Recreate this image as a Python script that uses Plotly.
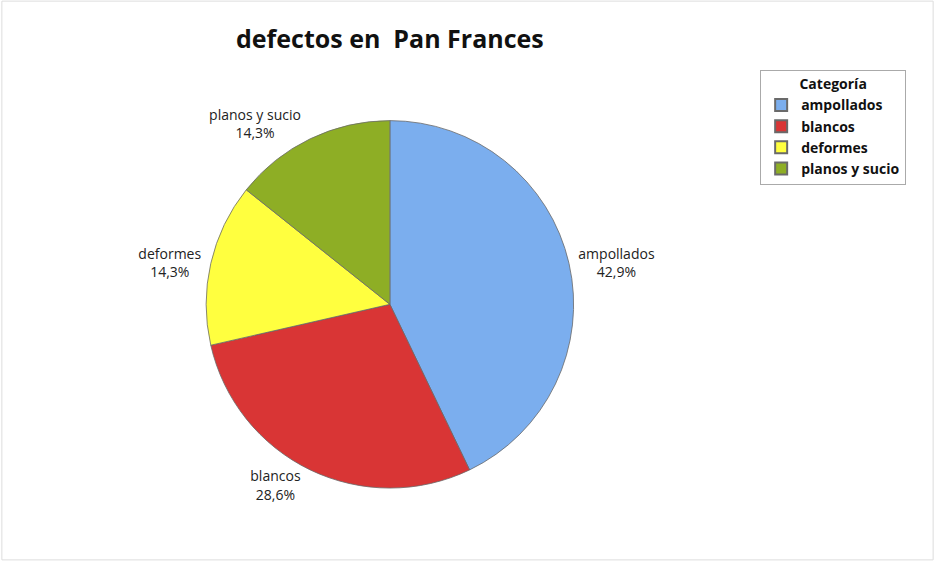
import plotly.graph_objects as go

# Defect categories and their counts
categorias = ["ampollados", "blancos", "deformes", "planos y sucio"]
conteos = [3, 2, 1, 1]
colores = ["#7BAEEE", "#D93535", "#FFFF3F", "#8EAE25"]

fig = go.Figure()
fig.add_trace(go.Pie(
    labels=categorias,
    values=conteos,
    sort=False,
    direction="clockwise",
    rotation=0,
    marker=dict(colors=colores, line=dict(color="#6A6A6A", width=0.8)),
    textposition="outside",
    texttemplate="%{label}<br>%{percent:.1%}",
    textfont=dict(family="Open Sans, Noto Sans, sans-serif", size=14, color="#222222"),
    domain=dict(x=[0.218, 0.616], y=[0.13, 0.785]),
    showlegend=True,
    hoverinfo="label+percent",
))

fig.update_layout(
    width=935, height=561,
    margin=dict(l=0, r=0, t=0, b=0),
    paper_bgcolor="white",
    plot_bgcolor="white",
    separators=",.",
    title=dict(
        text="<b>defectos en  Pan Frances</b>",
        x=0.417, xanchor="center", y=0.93, yanchor="middle",
        font=dict(family="Open Sans, Noto Sans, sans-serif", size=25, color="#111111"),
    ),
    legend=dict(
        title=dict(text="<b>Categoría</b>", side="top center",
                   font=dict(size=14, color="#111111")),
        x=0.813, xanchor="left", y=0.875, yanchor="top",
        bordercolor="#AAAAAA", borderwidth=1,
        font=dict(family="Open Sans, Noto Sans, sans-serif", size=14, color="#111111",
                  weight="bold"),
        tracegroupgap=0, itemsizing="constant",
    ),
    shapes=[dict(type="rect", xref="paper", yref="paper", x0=0.002, y0=0.002, x1=0.998, y1=0.998,
                 line=dict(color="#DDDDDD", width=1))],
)

fig.write_html("out.html")
